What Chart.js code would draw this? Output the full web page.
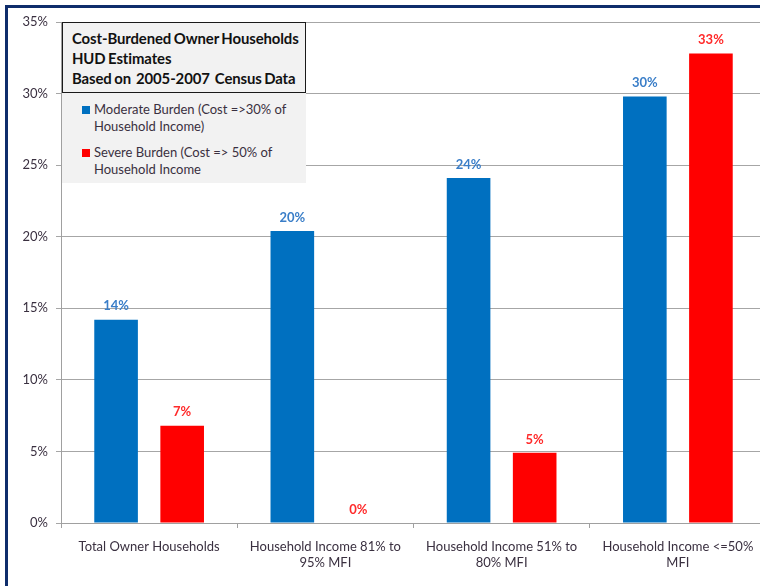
<!DOCTYPE html>
<html>
<head>
<meta charset="utf-8">
<script src="https://cdn.jsdelivr.net/npm/chart.js@4/dist/chart.umd.min.js"></script>
<style>
  html, body { margin: 0; padding: 0; background: #fff; width: 760px; height: 586px; overflow: hidden; }
  #wrap { position: relative; width: 760px; height: 586px; overflow: hidden; }
  #frame { position: absolute; left: 5px; top: 5px; width: 800px; height: 620px; border: 3px solid #0f2d6b; box-sizing: border-box; }
  canvas { position: absolute; left: 0; top: 0; }
  #titlebox { position: absolute; left: 62px; top: 22px; width: 244px; height: 161px; background: #f2f2f2; font-family: Lato, "Open Sans", sans-serif; }
  #title { position: absolute; left: 0; top: 0; width: 244px; height: 71px; box-sizing: border-box; border: 1.5px solid #1a1a1a; background: #f2f2f2;
           font-weight: bold; font-size: 14.9px; line-height: 20px; padding: 5px 0 0 9px; color: #111; letter-spacing: -0.1px; word-spacing: -1px; white-space: pre; }
  .item { position: absolute; left: 20px; font-size: 13px; line-height: 17px; color: #3a3040; }
  .item .sw { position: absolute; left: 0; top: 5px; width: 8px; height: 8px; }
  .item .tx { position: absolute; left: 12px; top: 0; white-space: pre; }
</style>
</head>
<body>
<div id="wrap">
  <div id="frame"></div>
  <canvas id="c" width="770" height="586"></canvas>
  <div id="titlebox">
    <div id="title"></div>
    <div class="item" id="item0" style="top:79px"><div class="sw"></div><div class="tx"></div></div>
    <div class="item" id="item1" style="top:122px"><div class="sw"></div><div class="tx"></div></div>
  </div>
</div>
<script>
const categories = [
  ["Total Owner Households"],
  ["Household Income 81% to", "95% MFI"],
  ["Household Income 51% to", "80% MFI"],
  ["Household Income <=50%", "MFI"]
];
const moderateBurden = [14.2, 20.4, 24.1, 29.8];
const severeBurden = [6.8, 0, 4.9, 32.8];
const seriesNames = ["Moderate Burden (Cost =>30% of\nHousehold Income)", "Severe Burden (Cost => 50% of\nHousehold Income"];
const seriesColors = ["#0070c0", "#ff0000"];
const labelColors = ["#3a7ec8", "#ff2a2a"];
const titleLines = ["Cost-Burdened Owner Households", "HUD Estimates", "Based on  2005-2007  Census Data"];
const yTicks = [0, 5, 10, 15, 20, 25, 30, 35];

document.getElementById('title').textContent = titleLines.join("\n");
[0, 1].forEach(i => {
  const el = document.getElementById('item' + i);
  el.querySelector('.sw').style.background = seriesColors[i];
  el.querySelector('.tx').textContent = seriesNames[i];
});

const FONT = 'Lato, "Open Sans", sans-serif';

const valueLabels = {
  id: 'valueLabels',
  afterDatasetsDraw(chart) {
    const ctx = chart.ctx;
    ctx.save();
    ctx.font = 'bold 13px ' + FONT;
    ctx.textAlign = 'center';
    ctx.textBaseline = 'bottom';
    chart.data.datasets.forEach((ds, di) => {
      const meta = chart.getDatasetMeta(di);
      ctx.fillStyle = labelColors[di];
      meta.data.forEach((bar, i) => {
        const v = ds.data[i];
        ctx.fillText(Math.round(v) + '%', bar.x, bar.y - 7);
      });
    });
    ctx.restore();
  }
};

new Chart(document.getElementById('c'), {
  type: 'bar',
  data: {
    labels: categories,
    datasets: [
      { label: seriesNames[0], data: moderateBurden, backgroundColor: seriesColors[0], borderWidth: 0 },
      { label: seriesNames[1], data: severeBurden, backgroundColor: seriesColors[1], borderWidth: 0 }
    ]
  },
  options: {
    responsive: false,
    animation: false,
    devicePixelRatio: 1,
    categoryPercentage: 0.75,
    barPercentage: 0.66,
    layout: { padding: { top: 22, right: 4, left: 0, bottom: 0 } },
    plugins: {
      legend: { display: false },
      tooltip: { enabled: false },
      title: { display: false }
    },
    scales: {
      x: {
        grid: { offset: true, drawOnChartArea: false, drawTicks: true, tickLength: 5, color: '#a0a0a0' },
        border: { color: '#a0a0a0', width: 1 },
        ticks: { color: '#3a3040', font: { family: FONT, size: 13, lineHeight: 1.2 }, padding: 11, maxRotation: 0, autoSkip: false },
        afterFit(scale) { scale.height = 63; }
      },
      y: {
        min: 0, max: 35,
        afterBuildTicks(scale) { scale.ticks = yTicks.map(v => ({ value: v })); },
        grid: { color: '#a6a6a6', tickLength: 5, drawTicks: true },
        border: { color: '#a0a0a0', width: 1 },
        ticks: { color: '#3a3040', font: { family: FONT, size: 13 }, padding: 8, callback: v => v + '%' },
        afterFit(scale) { scale.width = 61; }
      }
    }
  },
  plugins: [valueLabels]
});
</script>
</body>
</html>
